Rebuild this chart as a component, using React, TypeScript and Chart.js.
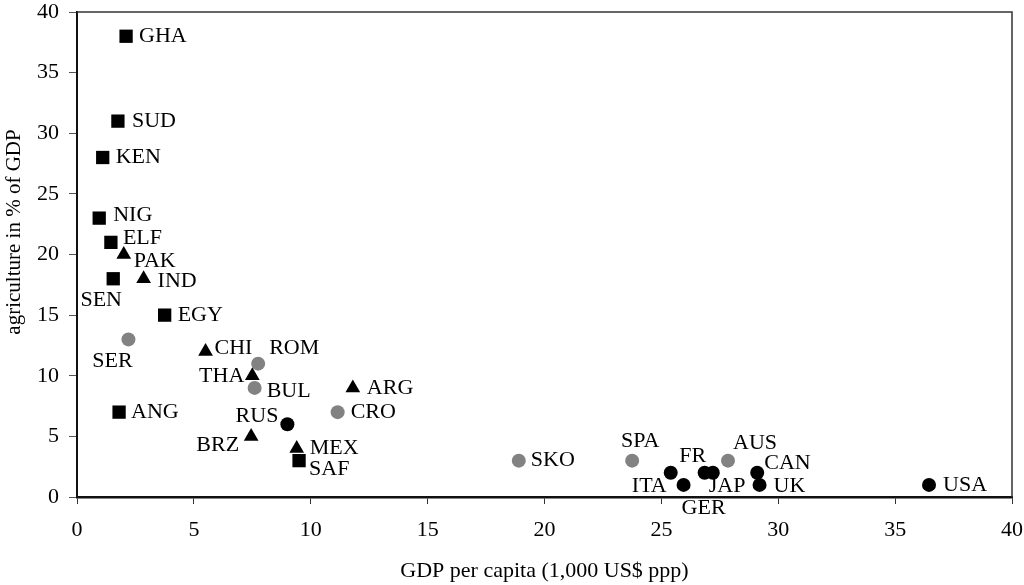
import React, { useEffect, useRef } from "react";
import { Chart, registerables } from "chart.js";

Chart.register(...registerables);

// Agriculture share of GDP (%) against GDP per capita (1,000 US$ ppp)

// Africa and other low-income economies (black squares)
const squareNames = ["GHA", "SUD", "KEN", "NIG", "ELF", "SEN", "EGY", "ANG", "SAF"];
const squareGdp = [2.1, 1.75, 1.1, 0.95, 1.45, 1.55, 3.75, 1.8, 9.5];
const squareAgri = [38, 31, 28, 23, 21, 18, 15, 7, 3];

// Emerging Asia and Latin America (black triangles)
const triangleNames = ["PAK", "IND", "CHI", "THA", "ARG", "BRZ", "MEX"];
const triangleGdp = [2.0, 2.85, 5.5, 7.5, 11.8, 7.45, 9.4];
const triangleAgri = [20, 18, 12, 10, 9, 5, 4];

// Transition and catching-up economies (grey circles)
const greyNames = ["SER", "ROM", "BUL", "CRO", "SKO", "SPA", "AUS"];
const greyGdp = [2.2, 7.75, 7.6, 11.15, 18.9, 23.75, 27.85];
const greyAgri = [13, 11, 9, 7, 3, 3, 3];

// Large industrial economies (black circles)
const blackNames = ["RUS", "ITA", "GER", "FR", "JAP", "CAN", "UK", "USA"];
const blackGdp = [9.0, 25.4, 25.95, 26.85, 27.2, 29.1, 29.2, 36.45];
const blackAgri = [6, 2, 1, 2, 2, 2, 1, 1];

const axisMin = 0;
const axisMax = 40;
const axisStep = 5;

const xTitle = "GDP per capita (1,000 US$ ppp)";
const yTitle = "agriculture in % of GDP";

const SERIF = '"Liberation Serif", "Times New Roman", serif';

// Where each country code sits relative to its marker (pixels)
type Placement = { dx: number; dy: number; align: CanvasTextAlign };
const labelPlacement: Record<string, Placement> = {
  GHA: { dx: 13, dy: 0, align: "left" },
  SUD: { dx: 14, dy: 0, align: "left" },
  KEN: { dx: 13, dy: 0, align: "left" },
  NIG: { dx: 14, dy: -3, align: "left" },
  ELF: { dx: 12, dy: -4, align: "left" },
  PAK: { dx: 10, dy: 7, align: "left" },
  SEN: { dx: -12, dy: 21, align: "center" },
  IND: { dx: 14, dy: 2, align: "left" },
  EGY: { dx: 13, dy: 0, align: "left" },
  SER: { dx: -16, dy: 22, align: "center" },
  CHI: { dx: 9, dy: -3, align: "left" },
  ROM: { dx: 11, dy: -15, align: "left" },
  THA: { dx: -8, dy: 0, align: "right" },
  BUL: { dx: 12, dy: 3, align: "left" },
  ARG: { dx: 14, dy: 0, align: "left" },
  CRO: { dx: 13, dy: 0, align: "left" },
  RUS: { dx: -9, dy: -8, align: "right" },
  BRZ: { dx: -12, dy: 9, align: "right" },
  MEX: { dx: 13, dy: 0, align: "left" },
  SAF: { dx: 10, dy: 9, align: "left" },
  SKO: { dx: 12, dy: 0, align: "left" },
  SPA: { dx: 8, dy: -19, align: "center" },
  ITA: { dx: -4, dy: 13, align: "right" },
  GER: { dx: 20, dy: 23, align: "center" },
  FR: { dx: -12, dy: -17, align: "center" },
  JAP: { dx: -4, dy: 13, align: "left" },
  AUS: { dx: 5, dy: -17, align: "left" },
  CAN: { dx: 7, dy: -10, align: "left" },
  UK: { dx: 14, dy: 1, align: "left" },
  USA: { dx: 14, dy: 0, align: "left" },
};

const groupNames = [squareNames, triangleNames, greyNames, blackNames];

const toPoints = (xs: number[], ys: number[]) => xs.map((x, i) => ({ x, y: ys[i] }));

// Country codes next to the markers
const pointLabels = {
  id: "pointLabels",
  afterDatasetsDraw(chart: any) {
    const ctx: CanvasRenderingContext2D = chart.ctx;
    ctx.save();
    ctx.font = `22px ${SERIF}`;
    ctx.fillStyle = "#000";
    ctx.textBaseline = "middle";
    chart.data.datasets.forEach((_ds: any, i: number) => {
      const meta = chart.getDatasetMeta(i);
      const names = groupNames[i];
      meta.data.forEach((pt: any, j: number) => {
        const name = names[j];
        const p = labelPlacement[name] ?? { dx: 12, dy: 0, align: "left" };
        ctx.textAlign = p.align;
        ctx.fillText(name, pt.x + p.dx, pt.y + p.dy);
      });
    });
    ctx.restore();
  },
};

// Top and right sides of the plot frame, plus the vertical axis title
const plotFrame = {
  id: "plotFrame",
  beforeDatasetsDraw(chart: any) {
    const { ctx, chartArea } = chart;
    ctx.save();
    ctx.strokeStyle = "#333";
    ctx.lineWidth = 1.5;
    ctx.beginPath();
    ctx.moveTo(chartArea.left, chartArea.top);
    ctx.lineTo(chartArea.right, chartArea.top);
    ctx.lineTo(chartArea.right, chartArea.bottom);
    ctx.stroke();

    ctx.translate(14, 232);
    ctx.rotate(-Math.PI / 2);
    ctx.font = `21px ${SERIF}`;
    ctx.fillStyle = "#000";
    ctx.textAlign = "center";
    ctx.textBaseline = "middle";
    ctx.fillText(yTitle, 0, 0);
    ctx.restore();
  },
};

export default function App() {
  const canvasRef = useRef<HTMLCanvasElement>(null);

  useEffect(() => {
    document.body.style.margin = "0";
    const canvas = canvasRef.current;
    if (!canvas) return;

    const chart = new Chart(canvas, {
      type: "scatter",
      data: {
        datasets: [
          {
            label: "squares",
            data: toPoints(squareGdp, squareAgri),
            pointStyle: "rect",
            pointRadius: 9.4,
            backgroundColor: "#000",
            borderWidth: 0,
          },
          {
            label: "triangles",
            data: toPoints(triangleGdp, triangleAgri),
            pointStyle: "triangle",
            pointRadius: 8.5,
            backgroundColor: "#000",
            borderWidth: 0,
          },
          {
            label: "grey circles",
            data: toPoints(greyGdp, greyAgri),
            pointStyle: "circle",
            pointRadius: 7,
            backgroundColor: "#828282",
            borderWidth: 0,
          },
          {
            label: "black circles",
            data: toPoints(blackGdp, blackAgri),
            pointStyle: "circle",
            pointRadius: 7,
            backgroundColor: "#000",
            borderWidth: 0,
          },
        ],
      },
      options: {
        animation: false,
        responsive: false,
        devicePixelRatio: 1,
        layout: { padding: { top: 12, right: 12, bottom: 0, left: 0 } },
        plugins: {
          legend: { display: false },
          tooltip: { enabled: false },
        },
        scales: {
          x: {
            type: "linear",
            min: axisMin,
            max: axisMax,
            ticks: {
              stepSize: axisStep,
              color: "#000",
              padding: 13,
              font: { family: SERIF, size: 22 },
            },
            grid: {
              drawOnChartArea: false,
              drawTicks: true,
              tickLength: 7,
              tickColor: "#333",
            },
            border: { color: "#111", width: 2.5 },
            title: {
              display: true,
              text: xTitle,
              color: "#000",
              font: { family: SERIF, size: 22 },
              padding: { top: 0, bottom: 1 },
            },
            afterFit(scale: any) {
              scale.height = 88;
              scale.paddingLeft = 0;
              scale.paddingRight = 0;
            },
          },
          y: {
            type: "linear",
            min: axisMin,
            max: axisMax,
            ticks: {
              stepSize: axisStep,
              color: "#000",
              padding: 10,
              font: { family: SERIF, size: 22, lineHeight: 1 },
            },
            grid: {
              drawOnChartArea: false,
              drawTicks: true,
              tickLength: 8,
              tickColor: "#555",
            },
            border: { color: "#111", width: 2 },
            title: { display: false },
            afterFit(scale: any) {
              scale.width = 77;
              scale.paddingTop = 0;
              scale.paddingBottom = 0;
            },
          },
        },
      },
      plugins: [plotFrame, pointLabels],
    });

    return () => chart.destroy();
  }, []);

  return (
    <div style={{ position: "absolute", left: 0, top: 0, width: 1024, height: 585, background: "#fff" }}>
      <canvas ref={canvasRef} width={1024} height={585} style={{ display: "block" }} />
    </div>
  );
}
